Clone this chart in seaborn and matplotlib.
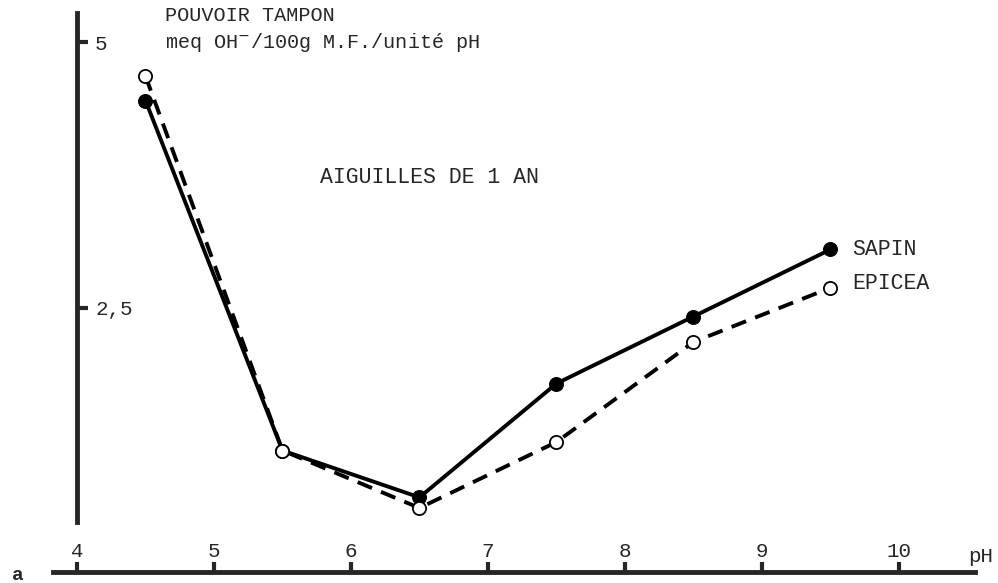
import matplotlib
matplotlib.use('Agg')
import matplotlib.pyplot as plt
import seaborn as sns
import pandas as pd

# Values (buffer capacity vs pH, 1-year needles)
ph = [4.5, 5.5, 6.5, 7.5, 8.5, 9.5]
sapin = [4.45, 1.16, 0.72, 1.79, 2.42, 3.05]
epicea = [4.68, 1.16, 0.62, 1.24, 2.18, 2.69]
x_ticks = [4, 5, 6, 7, 8, 9, 10]
y_ticks = [2.5, 5]
y_ticklabels = ['2,5', '5']

df = pd.DataFrame({'pH': ph, 'SAPIN': sapin, 'EPICEA': epicea})

sns.set_style('white')
plt.rcParams['font.family'] = ['Liberation Mono', 'DejaVu Sans']
plt.rcParams['mathtext.fontset'] = 'dejavusans'

W, H = 998, 583
fig = plt.figure(figsize=(W / 100, H / 100), dpi=100)
ax = fig.add_axes([0, 0, 1, 1])

# solid line, filled dots
sns.lineplot(data=df, x='pH', y='SAPIN', ax=ax, color='black', lw=2.8,
             marker='o', ms=10, mfc='black', mec='black')
# dashed line, open dots
sns.lineplot(data=df, x='pH', y='EPICEA', ax=ax, color='black', lw=2.8,
             linestyle=(0, (4, 2.5)), marker='o', ms=9.5, mfc='white',
             mec='black', mew=1.3)

ax.set_xlim(3.438, 10.723)
ax.set_ylim(-0.085, 5.395)
ax.set_xlabel('')
ax.set_ylabel('')

# axes drawn like the hand-made original
ax.spines['left'].set_visible(False)
ax.spines['bottom'].set_visible(False)
ax.spines['top'].set_position(('data', 0.02))
ax.spines['top'].set_bounds(3.825, 10.555)
ax.spines['top'].set_linewidth(3.5)
ax.spines['right'].set_position(('data', 4))
ax.spines['right'].set_bounds(0.49, 5.27)
ax.spines['right'].set_linewidth(3.5)

ax.xaxis.set_ticks_position('top')
ax.yaxis.set_ticks_position('right')
ax.set_xticks(x_ticks)
ax.set_xticklabels([str(v) for v in x_ticks])
ax.set_yticks(y_ticks)
ax.set_yticklabels(y_ticklabels)
ax.tick_params(axis='x', direction='out', length=7, width=3, pad=1, labelsize=15)
ax.tick_params(axis='y', direction='out', length=8, width=3, pad=5, labelsize=15)

def px(x, y):
    return x / W, 1 - y / H

fs = 15.5
fig.text(*px(165, 21), 'POUVOIR TAMPON', fontsize=14.5, va='baseline')
fig.text(*px(165, 48), 'meq OH$^{-}$/100g M.F./unité pH', fontsize=14.5, va='baseline')
fig.text(*px(320, 183), 'AIGUILLES DE 1 AN', fontsize=fs, va='baseline')
fig.text(*px(852, 255), 'SAPIN', fontsize=fs, va='baseline')
fig.text(*px(852, 289), 'EPICEA', fontsize=fs, va='baseline')
fig.text(*px(968, 562), 'pH', fontsize=15, va='baseline')
fig.text(*px(12, 580), 'a', fontsize=14, va='baseline', fontweight='bold')

fig.savefig('out.png', dpi=100)
